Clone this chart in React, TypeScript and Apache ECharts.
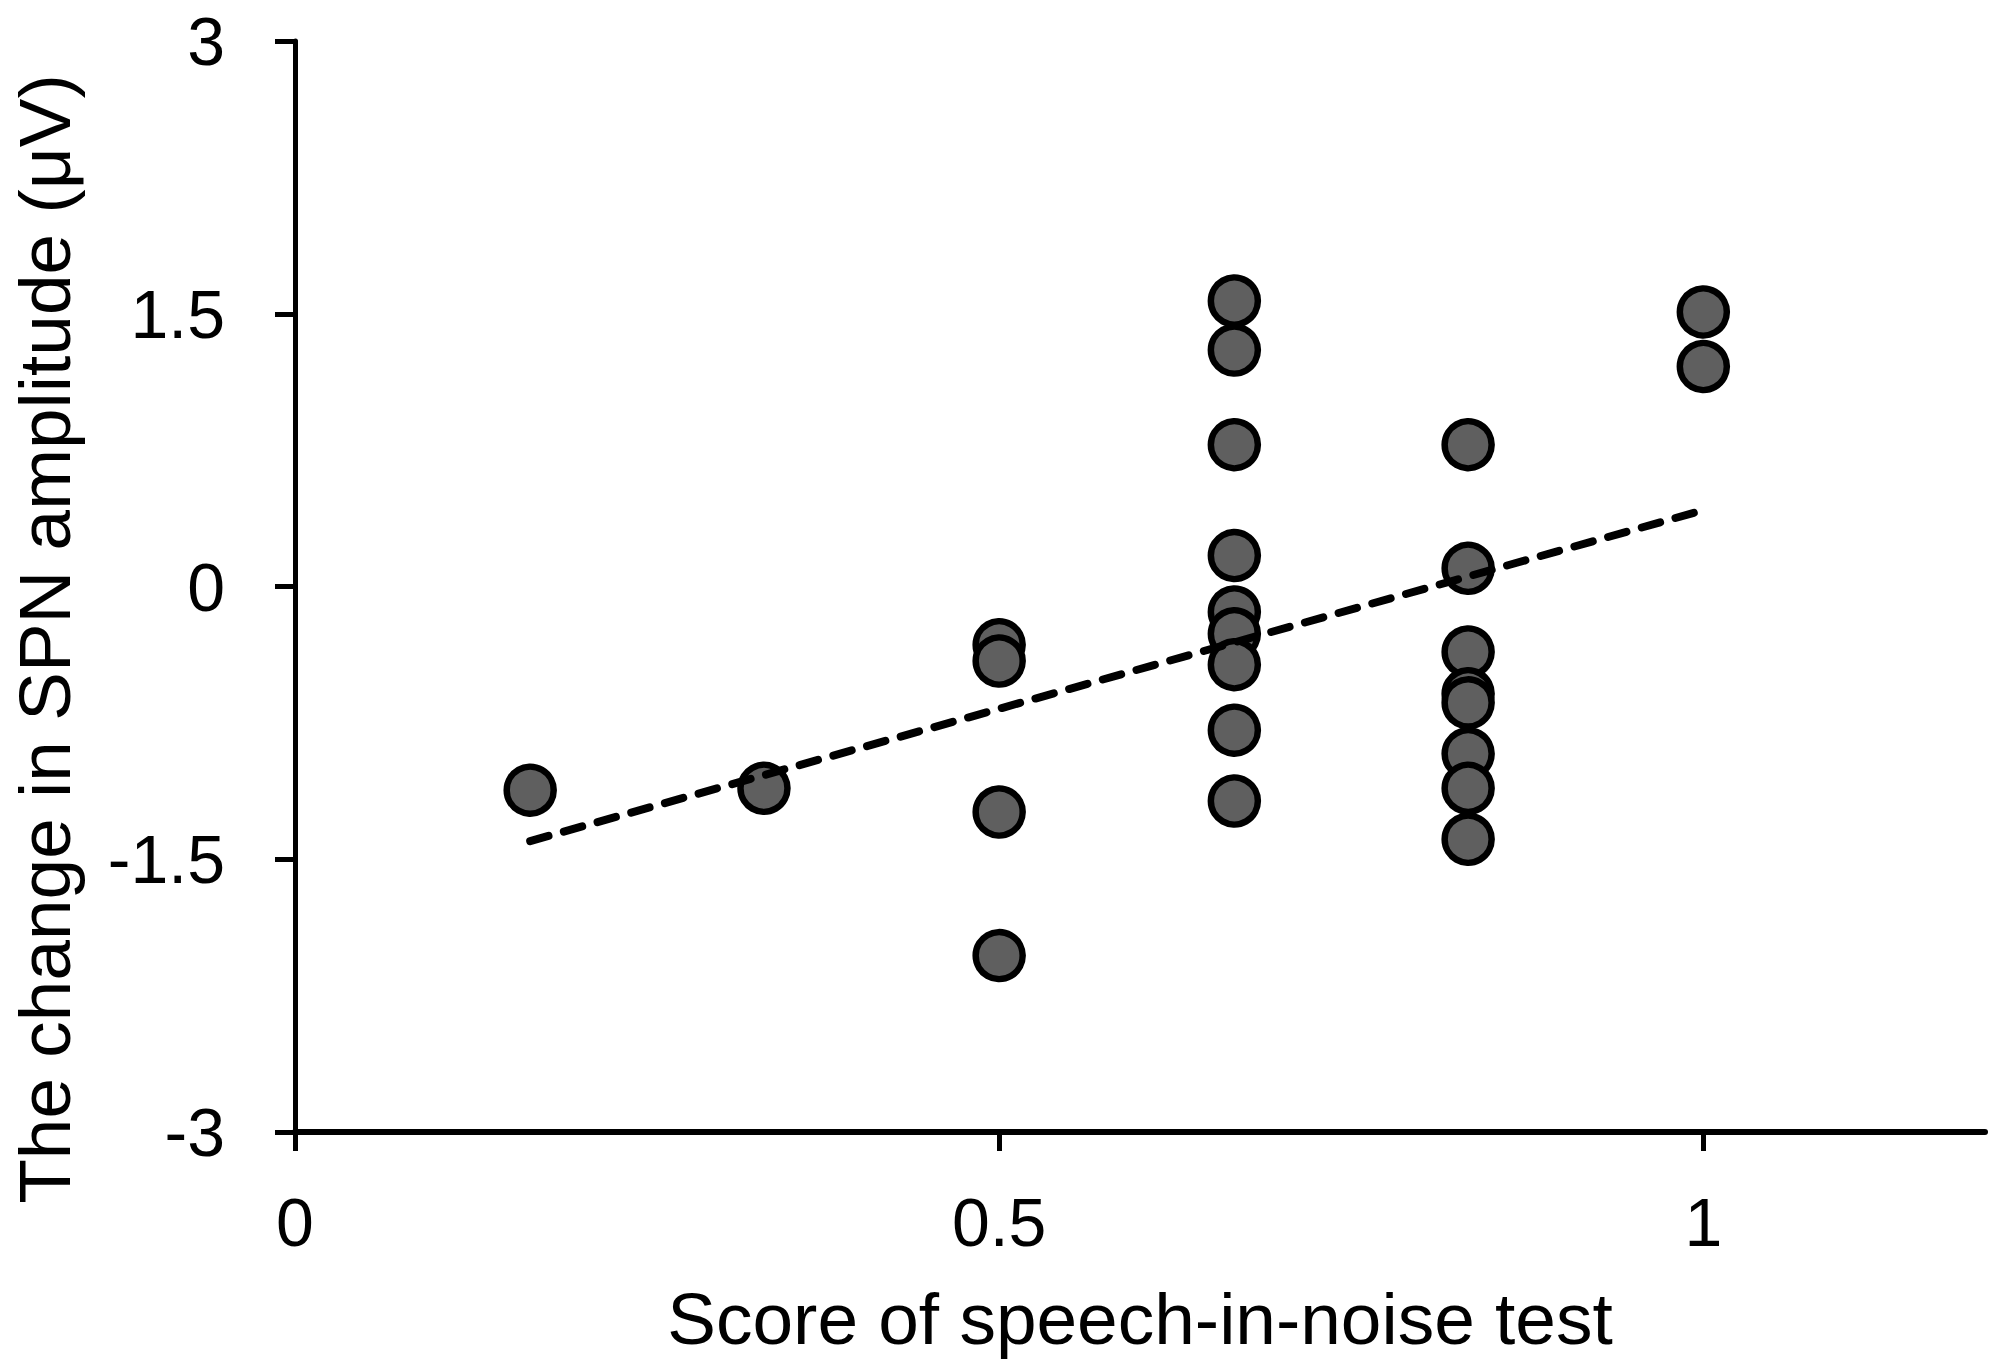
import React, { useEffect, useRef } from "react";
import * as echarts from "echarts";

const scores = [
  0.167,
  0.333,
  0.5, 0.5, 0.5, 0.5,
  0.667, 0.667, 0.667, 0.667, 0.667, 0.667, 0.667, 0.667, 0.667,
  0.833, 0.833, 0.833, 0.833, 0.833, 0.833, 0.833, 0.833,
  1, 1,
];
const spnChange = [
  -1.12,
  -1.11,
  -0.32, -0.41, -1.24, -2.03,
  1.57, 1.3, 0.78, 0.17, -0.14, -0.26, -0.43, -0.79, -1.18,
  0.78, 0.1, -0.36, -0.59, -0.64, -0.92, -1.11, -1.39,
  1.51, 1.21,
];
const trendX = [0.167, 1];
const trendY = [-1.4, 0.42];
const xTicks = [0, 0.5, 1];
const yTicks = [-3, -1.5, 0, 1.5, 3];

const FONT = "'Liberation Sans', Arial, Helvetica, sans-serif";

export default function App() {
  const ref = useRef<HTMLDivElement>(null);
  useEffect(() => {
    if (!ref.current) return;
    const chart = echarts.init(ref.current, null, { renderer: "svg" });
    const points = scores.map((s, i) => [s, spnChange[i]]);
    const trend = trendX.map((x, i) => [x, trendY[i]]);
    chart.setOption({
      animation: false,
      backgroundColor: "#ffffff",
      grid: { left: 293, right: 10, top: 41, bottom: 235, containLabel: false },
      xAxis: {
        type: "value",
        min: 0,
        max: 1.2,
        interval: 0.5,
        name: "Score of speech-in-noise test",
        nameLocation: "middle",
        nameGap: 150,
        nameTextStyle: { fontFamily: FONT, fontSize: 73, color: "#000" },
        axisLine: { show: true, onZero: false, lineStyle: { color: "#000", width: 6 } },
        axisTick: { show: true, inside: false, length: 19, customValues: xTicks, lineStyle: { color: "#000", width: 5 } },
        axisLabel: { margin: 56, customValues: xTicks, fontFamily: FONT, fontSize: 68, color: "#000" },
        splitLine: { show: false },
      },
      yAxis: {
        type: "value",
        min: -3,
        max: 3,
        interval: 1.5,
        name: "The change in SPN amplitude (μV)",
        nameLocation: "middle",
        nameGap: 214,
        nameTextStyle: { fontFamily: FONT, fontSize: 73, color: "#000", padding: [0, 105, 0, 0] },
        axisLine: { show: true, onZero: false, lineStyle: { color: "#000", width: 5 } },
        axisTick: { show: true, inside: false, length: 20, customValues: yTicks, lineStyle: { color: "#000", width: 5 } },
        axisLabel: { margin: 70, customValues: yTicks, fontFamily: FONT, fontSize: 68, color: "#000" },
        splitLine: { show: false },
      },
      series: [
        {
          type: "scatter",
          data: points,
          symbol: "circle",
          symbolSize: 47,
          itemStyle: { color: "#5f5f5f", borderColor: "#000", borderWidth: 6.5, opacity: 1 },
          z: 2,
        },
        {
          type: "line",
          data: trend,
          showSymbol: false,
          symbol: "none",
          lineStyle: { color: "#000", width: 8, type: [19, 16], cap: "round" },
          z: 3,
        },
      ],
    });
    return () => chart.dispose();
  }, []);
  return (
    <div
      ref={ref}
      style={{ position: "fixed", left: 0, top: 0, width: 1995, height: 1367, background: "#fff" }}
    />
  );
}
